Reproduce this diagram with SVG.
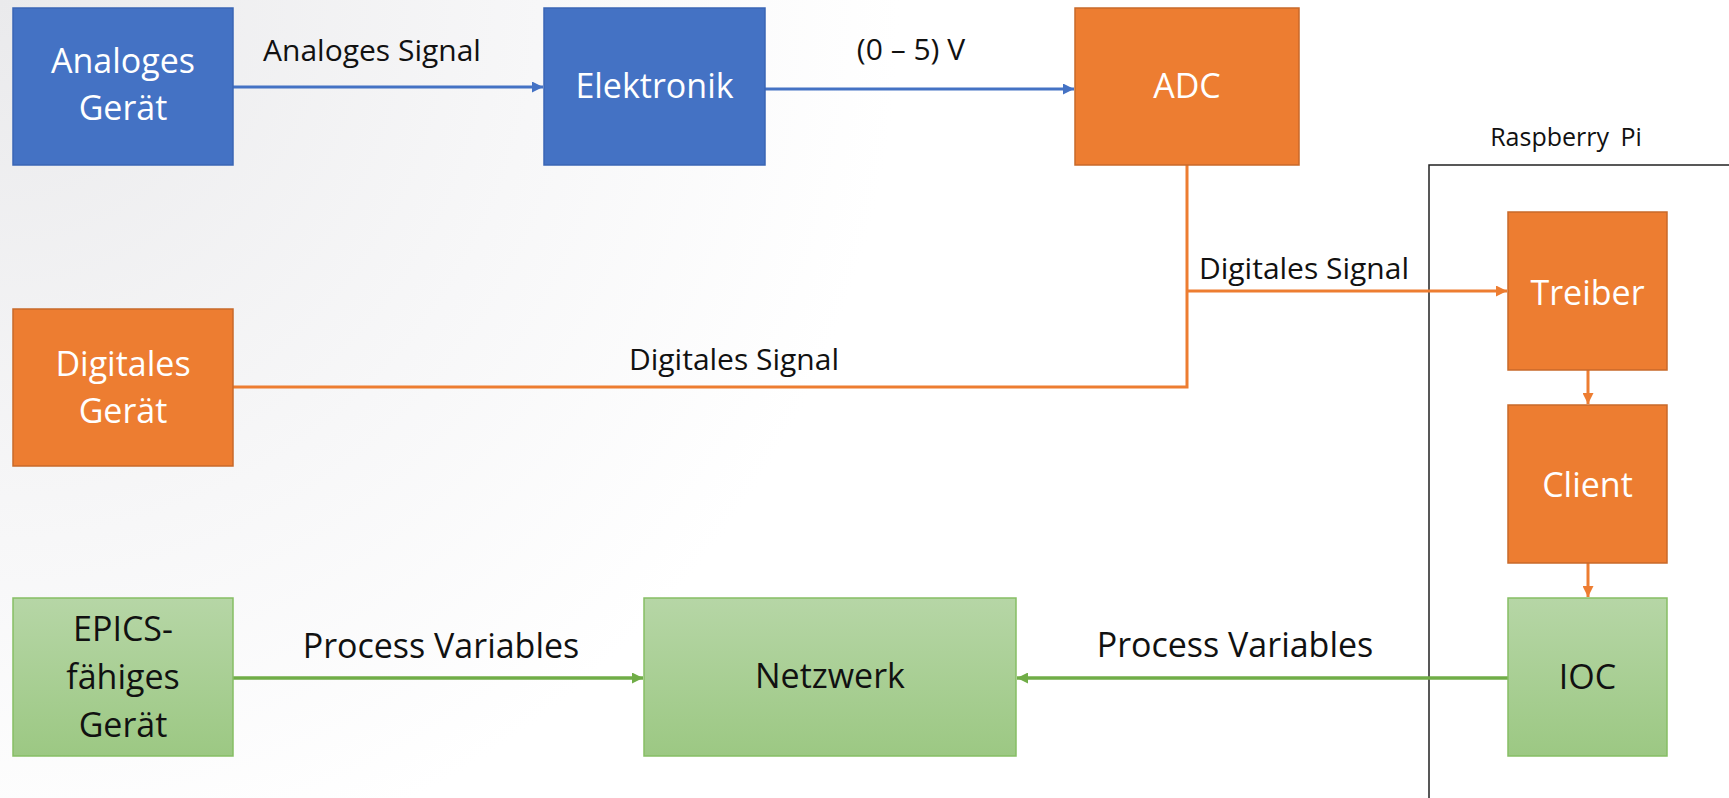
<svg xmlns="http://www.w3.org/2000/svg" width="1729" height="798" viewBox="0 0 1729 798">
<defs>
<radialGradient id="bg" cx="0" cy="0" r="900" gradientUnits="userSpaceOnUse">
<stop offset="0" stop-color="#EAEAEC"/>
<stop offset="0.6" stop-color="#F7F7F8"/>
<stop offset="1" stop-color="#FFFFFF"/>
</radialGradient>
<linearGradient id="gg" x1="0" y1="0" x2="0" y2="1">
<stop offset="0" stop-color="#B6D6A6"/>
<stop offset="1" stop-color="#9CC883"/>
</linearGradient>
<marker id="ab" viewBox="0 0 10 10" refX="10" refY="5" markerWidth="13" markerHeight="11" markerUnits="userSpaceOnUse" orient="auto"><path d="M0,0 L10,5 L0,10 z" fill="#4472C4"/></marker>
<marker id="ao" viewBox="0 0 10 10" refX="10" refY="5" markerWidth="13" markerHeight="11" markerUnits="userSpaceOnUse" orient="auto"><path d="M0,0 L10,5 L0,10 z" fill="#ED7D31"/></marker>
<marker id="ag" viewBox="0 0 10 10" refX="10" refY="5" markerWidth="13" markerHeight="11" markerUnits="userSpaceOnUse" orient="auto"><path d="M0,0 L10,5 L0,10 z" fill="#70AD47"/></marker>
</defs>
<style>
.blue{fill:#4472C4;stroke:#3A66B5;stroke-width:1.5}
.orange{fill:#ED7D31;stroke:#C8692A;stroke-width:1.5}
.green{fill:url(#gg);stroke:#86BE64;stroke-width:1.5}
.wt{font-family:"Open Sans","Noto Sans",sans-serif;font-size:34px;fill:#FFFFFF;text-anchor:middle}
.bt{font-family:"Open Sans","Noto Sans",sans-serif;font-size:34px;fill:#111111;text-anchor:middle}
.lbl{font-family:"Open Sans","Noto Sans",sans-serif;font-size:30px;fill:#111111;text-anchor:middle}
.cb{fill:none;stroke:#4472C4;stroke-width:3}
.co{fill:none;stroke:#ED7D31;stroke-width:3}
.cg{fill:none;stroke:#70AD47;stroke-width:3.5}
</style>
<rect x="0" y="0" width="1729" height="798" fill="url(#bg)"/>
<g id="raspberry-pi">
<path d="M1429,798 V165 H1729" fill="none" stroke="#222222" stroke-width="1.5"/>
<text x="1566" y="146" font-family="'Open Sans','Noto Sans',sans-serif" font-size="25" fill="#111111" text-anchor="middle" word-spacing="5">Raspberry Pi</text>
</g>
<g id="connectors">
<line class="cb" x1="233" y1="87" x2="543" y2="87" marker-end="url(#ab)"/>
<line class="cb" x1="765" y1="89" x2="1074" y2="89" marker-end="url(#ab)"/>
<path class="co" d="M1187,165 V387 H233"/>
<line class="co" x1="1187" y1="291" x2="1507" y2="291" marker-end="url(#ao)"/>
<line class="co" x1="1588" y1="370" x2="1588" y2="404" marker-end="url(#ao)"/>
<line class="co" x1="1588" y1="563" x2="1588" y2="597" marker-end="url(#ao)"/>
<line class="cg" x1="233" y1="678" x2="643" y2="678" marker-end="url(#ag)"/>
<line class="cg" x1="1508" y1="678" x2="1017" y2="678" marker-end="url(#ag)"/>
<text class="lbl" x="372" y="61">Analoges Signal</text>
<text class="lbl" x="911" y="60">(0 – 5) V</text>
<text class="lbl" x="1304" y="279">Digitales Signal</text>
<text class="lbl" x="734" y="370">Digitales Signal</text>
<text class="bt" x="441" y="658">Process Variables</text>
<text class="bt" x="1235" y="657">Process Variables</text>
</g>
<g id="analoges-geraet">
<rect class="blue" x="13" y="8" width="220" height="157"/>
<text class="wt" x="123" y="73">Analoges</text>
<text class="wt" x="123" y="120">Gerät</text>
</g>
<g id="elektronik">
<rect class="blue" x="544" y="8" width="221" height="157"/>
<text class="wt" x="654.5" y="98">Elektronik</text>
</g>
<g id="adc">
<rect class="orange" x="1075" y="8" width="224" height="157"/>
<text class="wt" x="1187" y="98">ADC</text>
</g>
<g id="digitales-geraet">
<rect class="orange" x="13" y="309" width="220" height="157"/>
<text class="wt" x="123" y="376">Digitales</text>
<text class="wt" x="123" y="423">Gerät</text>
</g>
<g id="treiber">
<rect class="orange" x="1508" y="212" width="159" height="158"/>
<text class="wt" x="1587.5" y="305">Treiber</text>
</g>
<g id="client">
<rect class="orange" x="1508" y="405" width="159" height="158"/>
<text class="wt" x="1587.5" y="497">Client</text>
</g>
<g id="ioc">
<rect class="green" x="1508" y="598" width="159" height="158"/>
<text class="bt" x="1587.5" y="689">IOC</text>
</g>
<g id="epics-geraet">
<rect class="green" x="13" y="598" width="220" height="158"/>
<text class="bt" x="123" y="641">EPICS-</text>
<text class="bt" x="123" y="689">fähiges</text>
<text class="bt" x="123" y="737">Gerät</text>
</g>
<g id="netzwerk">
<rect class="green" x="644" y="598" width="372" height="158"/>
<text class="bt" x="830" y="688">Netzwerk</text>
</g>
</svg>
